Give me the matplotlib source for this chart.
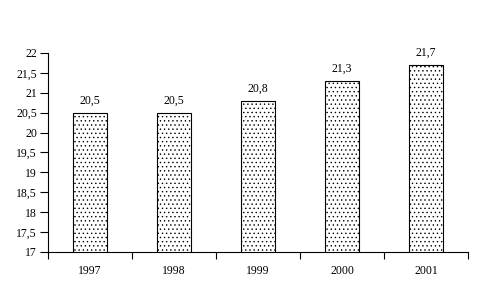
import matplotlib
matplotlib.use("Agg")
import matplotlib.pyplot as plt
import numpy as np

plt.rcParams['font.family'] = ['Liberation Serif', 'DejaVu Serif']
plt.rcParams['hatch.linewidth'] = 0.5

years = ["1997", "1998", "1999", "2000", "2001"]
values = [20.5, 20.5, 20.8, 21.3, 21.7]
yticks = [17, 17.5, 18, 18.5, 19, 19.5, 20, 20.5, 21, 21.5, 22]

fig = plt.figure(figsize=(4.83, 2.88), dpi=100)
ax = fig.add_axes([48/483, 36/288, 420/483, 199/288])

x = np.arange(len(years))
ax.bar(x, values, width=0.41, bottom=0, color="white", edgecolor="black",
       linewidth=0.8, hatch="....")
for xi, v in zip(x, values):
    ax.text(xi, v + 0.15, ("%.1f" % v).replace(".", ","), ha="center",
            va="bottom", fontsize=8.5)

ax.set_ylim(17, 22)
ax.set_xlim(-0.5, len(years) - 0.5)
ax.set_yticks(yticks)
ax.set_yticklabels([("%g" % t).replace(".", ",") for t in yticks], fontsize=8.5)
ax.set_xticks(np.arange(-0.5, len(years)), labels=[])
ax.set_xticks(x, labels=years, minor=True)
ax.tick_params(axis="x", which="major", length=5, width=0.8, direction="out")
ax.tick_params(axis="x", which="minor", length=0, labelsize=8.5, pad=9)
ax.tick_params(axis="y", length=6, width=0.8, direction="out", pad=2)
for s in ["top", "right"]:
    ax.spines[s].set_visible(False)
for s in ["left", "bottom"]:
    ax.spines[s].set_linewidth(0.8)

fig.savefig("out.png", dpi=100)
